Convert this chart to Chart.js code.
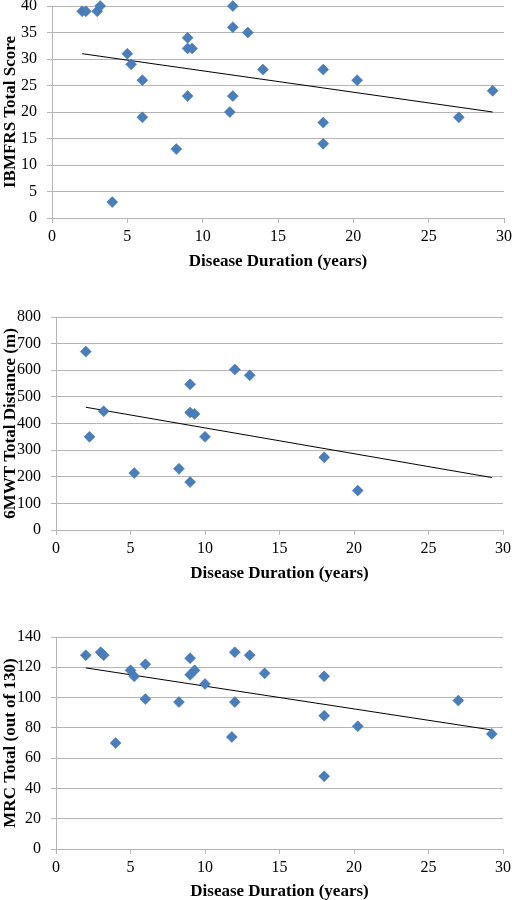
<!DOCTYPE html>
<html>
<head>
<meta charset="utf-8">
<script src="https://cdn.jsdelivr.net/npm/chart.js@4"></script>
<style>
  html, body { margin: 0; padding: 0; background: #fff; }
  body { width: 512px; height: 900px; position: relative; overflow: hidden; }
  .box { position: absolute; left: 0; width: 512px; }
  canvas { display: block; }
</style>
</head>
<body>
<div class="box" id="b1" style="top:0px;height:272px;"><canvas id="c1" width="512" height="272"></canvas></div>
<div class="box" id="b2" style="top:300px;height:284px;"><canvas id="c2" width="512" height="284"></canvas></div>
<div class="box" id="b3" style="top:600px;height:302px;"><canvas id="c3" width="512" height="302"></canvas></div>
<script>
// ---- Data ----
const xTitle = 'Disease Duration (years)';

// Chart 1: IBMFRS
const ibmX = [2, 2.25, 3, 3.2, 4, 5, 5.25, 6, 6, 8.25, 9, 9, 9.3, 9, 11.8, 12, 12, 12, 13, 14, 18, 18, 18, 20.25, 27, 29.25];
const ibmY = [39, 39, 39, 40, 3, 31, 29, 26, 19, 13, 34, 32, 32, 23, 20, 40, 36, 23, 35, 28, 28, 18, 14, 26, 19, 24];
const ibmTrendX = [2, 29.25];
const ibmTrendY = [31, 20];

// Chart 2: 6MWT
const mwtX = [2, 2.25, 3.2, 5.25, 8.25, 9, 9, 9.3, 9, 10, 12, 13, 18, 20.25];
const mwtY = [670, 350, 446, 214, 230, 547, 441, 436, 180, 350, 603, 581, 273, 148];
const mwtTrendX = [2, 29.25];
const mwtTrendY = [461, 197];

// Chart 3: MRC
const mrcX = [2, 3, 3.2, 4, 5, 5.25, 6, 6, 8.25, 9, 9, 9.3, 10, 11.8, 12, 12, 13, 14, 18, 18, 18, 20.25, 27, 29.25];
const mrcY = [128, 130, 128, 70, 118, 114, 122, 99, 97, 126, 115, 118, 109, 74, 130, 97, 128, 116, 114, 88, 48, 81, 98, 76];
const mrcTrendX = [2, 29.25];
const mrcTrendY = [119.6, 78.6];

// axis ranges / tick steps
const xRange = [0, 30, 5];
const ibmRange = [0, 40, 5];
const mwtRange = [0, 800, 100];
const mrcRange = [0, 140, 20];

const yTitles = ['IBMFRS Total Score', '6MWT Total Distance (m)', 'MRC Total (out of 130)'];

// ---- Styling ----
const FONT = "'Liberation Serif', 'Times New Roman', serif";
const GRID = '#b5b5b5';
const PT = '#4a7ebb';

function pairs(xs, ys) { return xs.map((x, i) => ({ x: x, y: ys[i] })); }

function makeChart(id, xs, ys, tx, ty, yr, yTitle, cfg) {
  new Chart(document.getElementById(id), {
    type: 'scatter',
    data: {
      datasets: [
        {
          data: pairs(xs, ys),
          pointStyle: 'rectRot',
          pointRadius: 5.5,
          pointHoverRadius: 5.5,
          backgroundColor: PT,
          borderColor: '#3f71ad',
          borderWidth: 0.5,
          clip: false
        },
        {
          type: 'line',
          data: pairs(tx, ty),
          borderColor: '#000',
          borderWidth: 1,
          pointRadius: 0,
          fill: false,
          tension: 0
        }
      ]
    },
    options: {
      responsive: false,
      animation: false,
      events: [],
      layout: { padding: { top: cfg.top, right: cfg.right, bottom: 0, left: 0 } },
      plugins: { legend: { display: false }, tooltip: { enabled: false } },
      scales: {
        x: {
          type: 'linear',
          min: xRange[0], max: xRange[1],
          ticks: { stepSize: xRange[2], color: '#000', font: { family: FONT, size: 16 }, padding: 4, maxRotation: 0 },
          grid: { drawOnChartArea: false, color: GRID, tickLength: 5, tickColor: GRID },
          border: { color: GRID, width: 1 },
          title: { display: true, text: xTitle, color: '#000', font: { family: FONT, size: 17, weight: 'bold' }, padding: 0 },
          afterFit: function (s) { s.height = cfg.xh; s.paddingLeft = 0; s.paddingRight = 0; }
        },
        y: {
          type: 'linear',
          min: yr[0], max: yr[1],
          ticks: { stepSize: yr[2], color: '#000', font: { family: FONT, size: 16 }, padding: 10 },
          grid: { color: GRID, tickLength: 5, tickColor: GRID },
          border: { color: GRID, width: 1 },
          title: { display: true, text: yTitle, color: '#000', font: { family: FONT, size: 17, weight: 'bold' }, padding: 0 },
          afterFit: function (s) { s.width = cfg.yw; s.paddingTop = 0; s.paddingBottom = 0; }
        }
      }
    }
  });
}

makeChart('c1', ibmX, ibmY, ibmTrendX, ibmTrendY, ibmRange, yTitles[0], { top: 6, right: 8, xh: 54, yw: 52 });
makeChart('c2', mwtX, mwtY, mwtTrendX, mwtTrendY, mwtRange, yTitles[1], { top: 17, right: 9, xh: 54, yw: 56 });
makeChart('c3', mrcX, mrcY, mrcTrendX, mrcTrendY, mrcRange, yTitles[2], { top: 37, right: 9, xh: 53, yw: 56 });
</script>
</body>
</html>
